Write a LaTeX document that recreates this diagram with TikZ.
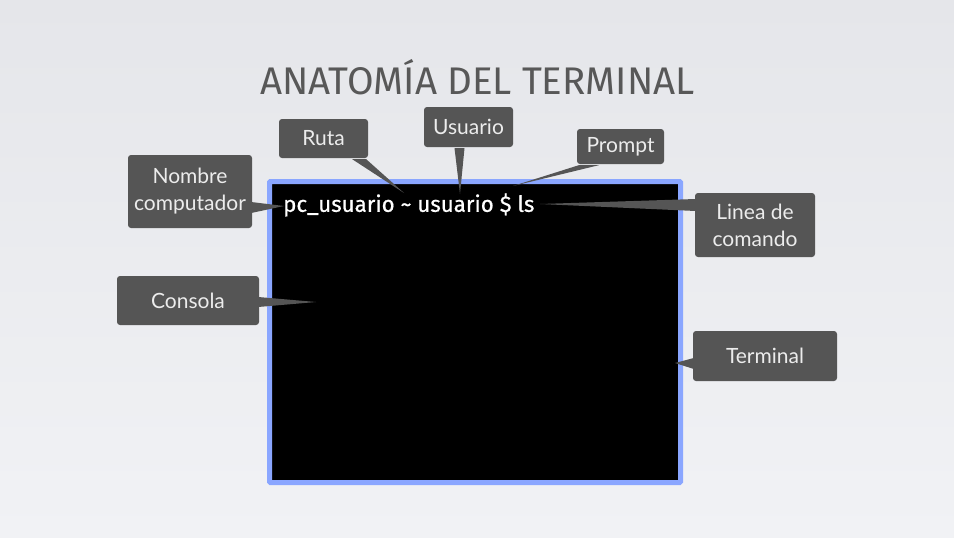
\documentclass[tikz,border=0pt]{standalone}
\usepackage{fontspec}
\setmainfont{Lato}
\newfontfamily\titlefont{Fira Sans}
\newfontfamily\termfont{Fira Sans}[FakeBold=0.6]
\definecolor{bgtop}{RGB}{229,230,234}
\definecolor{bgbot}{RGB}{241,242,245}
\definecolor{boxgray}{RGB}{85,85,85}
\definecolor{labeltxt}{RGB}{236,236,236}
\definecolor{titlegray}{RGB}{88,88,88}
\definecolor{termblue}{RGB}{138,166,255}
\tikzset{
  callout/.style={fill=boxgray, rounded corners=3pt, text=labeltxt, align=center,
    font=\fontsize{21}{27}\selectfont, inner sep=0pt},
  pointer/.style={fill=boxgray, draw=none},
}
\begin{document}
\begin{tikzpicture}[x=1pt,y=-1pt]
\shade[top color=bgtop, bottom color=bgbot] (0,0) rectangle (954,538);
\useasboundingbox (0,0) rectangle (954,538);
% title
\node[font=\titlefont\fontsize{38.5}{44}\selectfont, text=titlegray] (title) at (477.5,77) {ANATOMÍA DEL TERMINAL};
% terminal window
\node[draw=termblue, line width=5pt, fill=black, minimum width=411pt, minimum height=301pt, inner sep=0pt, rounded corners=1pt] (term) at (475,332) {};
\node[anchor=west, text=white, font=\termfont\fontsize{22.3}{26}\selectfont, inner sep=0pt] (cmd) at (283,205) {pc\_usuario \textasciitilde{} usuario \$ ls};
% callout boxes
\node[callout, minimum width=89pt, minimum height=39pt] (ruta) at (323.5,138.5) {Ruta};
\node[callout, minimum width=89pt, minimum height=40pt] (usuario) at (468.5,127) {Usuario};
\node[callout, minimum width=124pt, minimum height=73pt] (nombre) at (190,191.5) {Nombre\\computador};
\node[callout, minimum width=87pt, minimum height=35pt] (prompt) at (620.5,146.5) {Prompt};
\node[callout, minimum width=120pt, minimum height=64pt] (linea) at (755,225) {Linea de\\comando};
\node[callout, minimum width=142pt, minimum height=49pt] (consola) at (188,300.5) {Consola};
\node[callout, minimum width=144pt, minimum height=50pt] (terminal) at (765,356) {Terminal};
% pointer tips
\coordinate (tRuta) at (404,193);
\coordinate (tUsuario) at (460,194);
\coordinate (tNombre) at (284,206);
\coordinate (tPrompt) at (513,186);
\coordinate (tLinea) at (540,204);
\coordinate (tConsola) at (316,302);
\coordinate (tTerminal) at (675,363);
% pointers
\fill[pointer] ([xshift=-16pt,yshift=-1pt]ruta.south east) -- ([xshift=-2pt,yshift=-1pt]ruta.south east) -- (tRuta) -- cycle;
\fill[pointer] ([xshift=-14pt,yshift=-1pt]usuario.south) -- ([xshift=-4pt,yshift=-1pt]usuario.south) -- (tUsuario) -- cycle;
\fill[pointer] ([xshift=-1pt]nombre.east |- 0,202) -- ([xshift=-1pt]nombre.east |- 0,213) -- (tNombre) -- cycle;
\fill[pointer] ([xshift=2pt,yshift=-1pt]prompt.south west) -- ([xshift=22pt,yshift=-1pt]prompt.south west) -- (tPrompt) -- cycle;
\fill[pointer] ([xshift=1pt]linea.west |- 0,199) -- ([xshift=1pt]linea.west |- 0,211) -- (tLinea) -- cycle;
\fill[pointer] ([xshift=-1pt]consola.east |- 0,297) -- ([xshift=-1pt]consola.east |- 0,307) -- (tConsola) -- cycle;
\fill[pointer] ([xshift=1pt]terminal.west |- 0,358) -- ([xshift=1pt]terminal.west |- 0,369) -- (tTerminal) -- cycle;
\end{tikzpicture}
\end{document}
